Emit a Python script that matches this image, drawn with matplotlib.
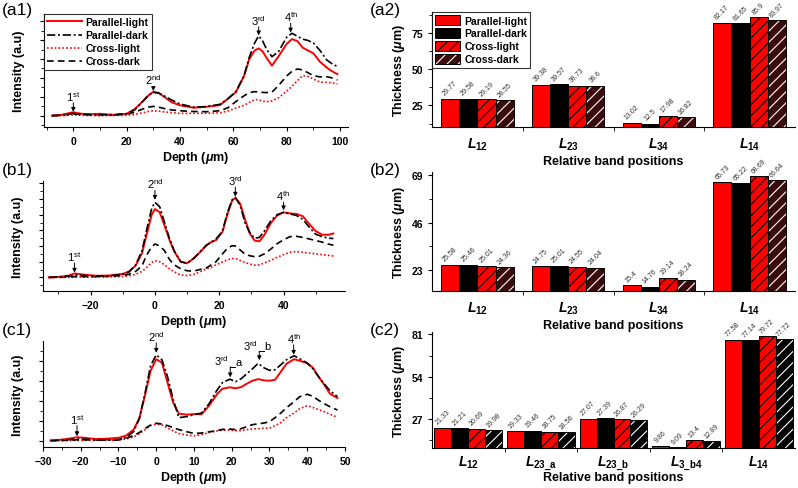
import numpy as np
import matplotlib
matplotlib.use('Agg')
import matplotlib.pyplot as plt
from matplotlib.ticker import MultipleLocator, FixedLocator, NullFormatter

plt.rcParams['font.family'] = ['Liberation Sans', 'DejaVu Sans']
plt.rcParams['mathtext.fontset'] = 'custom'
plt.rcParams['mathtext.rm'] = 'Liberation Sans'
plt.rcParams['mathtext.it'] = 'Liberation Sans:italic:bold'
plt.rcParams['mathtext.bf'] = 'Liberation Sans:bold'
plt.rcParams['hatch.linewidth'] = 0.8

series = ['Parallel-light', 'Parallel-dark', 'Cross-light', 'Cross-dark']

# ---- (a1) depth profiles
a1_x = [-8, -5, -2, 0, 3, 6, 10, 15, 20, 23, 26, 28, 30, 32, 34, 37, 40, 45, 50, 55, 58, 61, 64, 66,
        68, 69.5, 71, 72.5, 74.5, 77, 80, 82, 84, 86, 88, 90, 92.5, 95, 97, 99]
a1_pl = [0.0, 0.03, 0.12, 0.18, 0.1, 0.07, 0.1, 0.03, 0.1, 0.35, 0.75, 1.05, 1.27, 1.2, 1.0, 0.7, 0.55,
         0.42, 0.47, 0.56, 0.9, 1.25, 2.1, 3.0, 3.45, 3.56, 3.4, 3.05, 2.65, 3.15, 3.8, 4.05, 3.95, 3.6,
         3.45, 3.3, 2.85, 2.55, 2.35, 2.2]
a1_pd = [0.0, 0.02, 0.08, 0.12, 0.08, 0.06, 0.05, 0.05, 0.1, 0.3, 0.75, 1.05, 1.23, 1.2, 1.05, 0.82, 0.62,
         0.45, 0.48, 0.6, 0.9, 1.28, 2.1, 3.1, 3.85, 4.22, 3.95, 3.5, 3.12, 3.4, 4.15, 4.36, 4.2, 4.05,
         3.98, 3.85, 3.45, 2.95, 2.75, 2.6]
a1_cl = [0.0, 0.0, 0.02, 0.04, 0.02, 0.01, 0.0, 0.01, 0.02, 0.06, 0.15, 0.22, 0.26, 0.24, 0.2, 0.16, 0.12,
         0.12, 0.13, 0.15, 0.25, 0.4, 0.55, 0.7, 0.85, 0.85, 0.76, 0.74, 0.78, 0.95, 1.3, 1.55, 1.85, 2.12,
         2.08, 1.94, 1.78, 1.76, 1.74, 1.68]
a1_cd = [0.0, 0.02, 0.06, 0.09, 0.06, 0.05, 0.05, 0.05, 0.08, 0.18, 0.35, 0.45, 0.49, 0.45, 0.38, 0.3, 0.26,
         0.22, 0.21, 0.26, 0.42, 0.75, 1.05, 1.22, 1.27, 1.25, 1.23, 1.22, 1.25, 1.6, 2.1, 2.35, 2.47, 2.42,
         2.27, 2.12, 2.05, 2.06, 2.0, 1.89]

# ---- (b1)
b1_x = [-33, -30, -27, -25, -22, -18, -14, -10, -8, -6, -4, -2.5, -1, 0, 1.5, 3, 4.5, 6, 8, 10, 12, 14, 16,
        17.5, 19, 21, 22.5, 24, 25, 26.5, 28, 29.5, 31, 32.5, 34, 36, 38, 40, 42, 44, 46, 48, 50, 52, 54, 55.5]
b1_pl = [0.0, 0.03, 0.1, 0.25, 0.17, 0.1, 0.12, 0.22, 0.38, 0.75, 1.55, 2.8, 4.0, 4.36, 4.15, 3.3, 2.4, 1.65,
         1.0, 0.9, 1.2, 1.6, 2.05, 2.25, 2.38, 2.9, 4.0, 4.9, 5.08, 4.7, 3.7, 2.8, 2.35, 2.3, 2.7, 3.45, 3.95,
         4.15, 4.08, 4.05, 3.9, 3.4, 2.95, 2.72, 2.72, 2.8]
b1_pd = [0.0, 0.02, 0.07, 0.15, 0.12, 0.08, 0.1, 0.2, 0.35, 0.8, 1.7, 3.1, 4.4, 4.79, 4.5, 3.5, 2.5, 1.7,
         1.0, 0.9, 1.2, 1.62, 2.05, 2.25, 2.45, 2.95, 4.1, 4.95, 5.1, 4.6, 3.5, 2.85, 2.5, 2.55, 2.95, 3.6, 4.0,
         4.15, 4.05, 3.95, 3.7, 3.2, 2.75, 2.6, 2.5, 2.48]
b1_cl = [0.0, 0.0, 0.0, 0.02, 0.02, 0.02, 0.03, 0.05, 0.1, 0.2, 0.38, 0.65, 0.95, 1.06, 1.0, 0.8, 0.55, 0.35,
         0.15, 0.12, 0.18, 0.35, 0.55, 0.65, 0.8, 0.98, 1.12, 1.2, 1.2, 1.08, 0.95, 0.85, 0.78, 0.8, 0.92, 1.08,
         1.28, 1.45, 1.6, 1.65, 1.6, 1.55, 1.5, 1.45, 1.4, 1.36]
b1_cd = [0.0, 0.0, 0.03, 0.05, 0.05, 0.05, 0.07, 0.12, 0.2, 0.38, 0.75, 1.45, 1.95, 2.13, 2.0, 1.7, 1.15, 0.8,
         0.55, 0.42, 0.4, 0.5, 0.6, 0.8, 1.0, 1.5, 1.85, 2.02, 2.0, 1.75, 1.48, 1.38, 1.32, 1.35, 1.5, 1.8,
         2.15, 2.4, 2.6, 2.62, 2.55, 2.45, 2.35, 2.25, 2.12, 2.05]

# ---- (c1)
c1_x = [-28, -25, -23, -21, -19, -16, -13, -10, -8, -6, -4.5, -3, -1.5, 0, 1.5, 3, 4.5, 6, 8, 10, 12, 14, 16,
        17.5, 19.5, 21, 22.5, 24, 25.5, 27, 28.5, 30, 31.5, 33, 34.5, 36.5, 38, 40, 41.5, 43, 44.5, 46, 48]
c1_pl = [0.0, 0.05, 0.1, 0.17, 0.14, 0.08, 0.1, 0.14, 0.25, 0.55, 1.1, 2.25, 3.5, 4.08, 3.9, 2.9, 1.9, 1.35,
         1.3, 1.33, 1.32, 1.75, 2.3, 2.6, 2.67, 2.62, 2.68, 2.85, 3.0, 3.08, 3.02, 3.0, 3.05, 3.45, 3.85, 4.08,
         4.0, 3.88, 3.65, 3.2, 2.8, 2.35, 2.13]
c1_pd = [0.0, 0.02, 0.05, 0.08, 0.07, 0.04, 0.02, 0.03, 0.15, 0.45, 1.1, 2.35, 3.75, 4.3, 4.05, 3.2, 2.05,
         1.15, 1.2, 1.3, 1.38, 1.85, 2.5, 2.9, 3.08, 2.95, 3.1, 3.35, 3.6, 3.87, 3.65, 3.52, 3.55, 3.8, 4.05,
         4.25, 4.1, 3.88, 3.6, 3.2, 2.85, 2.5, 2.2]
c1_cl = [0.0, 0.0, 0.0, 0.01, 0.01, 0.01, 0.02, 0.03, 0.08, 0.18, 0.35, 0.55, 0.75, 0.83, 0.78, 0.63, 0.48,
         0.35, 0.28, 0.24, 0.3, 0.4, 0.48, 0.52, 0.53, 0.5, 0.5, 0.55, 0.58, 0.6, 0.62, 0.63, 0.75, 0.9, 1.15,
         1.38, 1.6, 1.75, 1.66, 1.55, 1.45, 1.32, 1.17]
c1_cd = [0.0, 0.01, 0.02, 0.04, 0.04, 0.04, 0.05, 0.06, 0.12, 0.25, 0.4, 0.6, 0.78, 0.87, 0.83, 0.75, 0.65,
         0.55, 0.45, 0.36, 0.38, 0.44, 0.5, 0.56, 0.58, 0.55, 0.6, 0.7, 0.8, 0.84, 0.88, 0.95, 1.15, 1.38,
         1.65, 1.95, 2.2, 2.32, 2.22, 2.02, 1.85, 1.7, 1.53]

# ---- bar data (thickness, um)
a2_cats = ['12', '23', '34', '14']
a2_pl = [29.77, 39.38, 13.02, 82.17]
a2_pd = [29.58, 39.57, 12.5, 81.65]
a2_cl = [29.19, 38.73, 17.98, 85.9]
a2_cd = [28.55, 38.6, 16.82, 83.97]

b2_cats = ['12', '23', '34', '14']
b2_pl = [25.58, 24.75, 15.4, 65.73]
b2_pd = [25.46, 25.01, 14.76, 65.22]
b2_cl = [25.01, 24.55, 19.14, 68.69]
b2_cd = [24.36, 24.04, 18.24, 66.64]

c2_cats = ['12', '23\\_a', '23\\_b', '3\\_b4', '14']
c2_pl = [21.33, 19.33, 27.07, 9.86, 77.58]
c2_pd = [21.21, 19.46, 27.39, 9.09, 77.14]
c2_cl = [20.69, 18.75, 26.87, 13.4, 79.72]
c2_cd = [19.98, 18.56, 26.29, 12.89, 77.72]

W, H = 798, 489
fig = plt.figure(figsize=(W / 100, H / 100), dpi=100)


def add_ax(l, t, r, b):
    ax = fig.add_axes([l / W, 1 - b / H, (r - l) / W, (b - t) / H])
    ax.spines['top'].set_visible(False)
    ax.spines['right'].set_visible(False)
    ax.tick_params(which='major', direction='out', length=3, width=0.8, labelsize=7.5)
    ax.tick_params(which='minor', direction='out', length=2, width=0.6)
    for lab in ax.get_xticklabels() + ax.get_yticklabels():
        lab.set_fontweight('bold')
    return ax


def line_panel(ax, x, pl, pd, cl, cd, xlim, ylim, xmaj, xmin):
    ax.plot(x, cl, color='red', lw=1.2, ls=(0, (1, 1.3)), label=series[2])
    ax.plot(x, cd, color='black', lw=1.2, ls=(0, (4, 2.5)), label=series[3])
    ax.plot(x, pl, color='red', lw=1.4, label=series[0])
    ax.plot(x, pd, color='black', lw=1.2, ls=(0, (5, 1.6, 1.2, 1.6)), label=series[1])
    ax.set_xlim(*xlim)
    ax.set_ylim(*ylim)
    ax.xaxis.set_major_locator(MultipleLocator(xmaj))
    ax.xaxis.set_minor_locator(MultipleLocator(xmin))
    ax.yaxis.set_major_locator(MultipleLocator(1))
    ax.yaxis.set_minor_locator(MultipleLocator(0.5))
    ax.yaxis.set_major_formatter(NullFormatter())
    for lab in ax.get_xticklabels():
        lab.set_fontweight('bold')
    ax.set_xlabel(r'Depth ($\mu$m)', fontsize=9, fontweight='bold', labelpad=2)
    ax.set_ylabel('Intensity (a.u)', fontsize=9, fontweight='bold', labelpad=7)


def mark(ax, x, tip, tail, label):
    ax.annotate('', xy=(x, tip), xytext=(x, tail),
                arrowprops=dict(arrowstyle='-|>', color='black', lw=0.7, mutation_scale=6,
                                shrinkA=0, shrinkB=0), annotation_clip=False)
    ax.text(x, tail, label, ha='center', va='bottom', fontsize=8, clip_on=False)


def mark_sub(ax, x, tip, tail, label, sub, hook):
    ax.annotate('', xy=(x, tip), xytext=(x, tail),
                arrowprops=dict(arrowstyle='-|>', color='black', lw=0.7, mutation_scale=6,
                                shrinkA=0, shrinkB=0), annotation_clip=False)
    ax.plot([x, x + hook], [tail, tail], color='black', lw=0.7)
    ax.text(x - 0.3, tail - 0.02, label, ha='right', va='bottom', fontsize=8)
    ax.text(x + hook + 0.1, tail, sub, ha='left', va='bottom', fontsize=8)


ax = add_ax(44, 15, 348, 128)
line_panel(ax, a1_x, a1_pl, a1_pd, a1_cl, a1_cd, (-11, 103), (-0.6, 5.38), 20, 10)
h, l = ax.get_legend_handles_labels()
order = [2, 3, 0, 1]
leg = ax.legend([h[i] for i in order], [l[i] for i in order], loc='upper left', bbox_to_anchor=(0, 1),
                borderaxespad=0, prop={'weight': 'bold', 'size': 7.5}, frameon=True,
                fancybox=False, edgecolor='black', handlelength=3.3, labelspacing=0.3, borderpad=0.3,
                handletextpad=0.4)
leg.get_frame().set_linewidth(0.8)
mark(ax, 0, 0.2, 0.68, r'1$^{\rm st}$')
mark(ax, 30, 1.3, 1.55, r'2$^{\rm nd}$')
mark(ax, 69.5, 4.25, 4.7, r'3$^{\rm rd}$')
mark(ax, 81.5, 4.4, 4.9, r'4$^{\rm th}$')

ax = add_ax(43, 182, 345, 292)
line_panel(ax, b1_x, b1_pl, b1_pd, b1_cl, b1_cd, (-34.8, 59.1), (-0.87, 6.15), 20, 10)
mark(ax, -25, 0.3, 0.92, r'1$^{\rm st}$')
mark(ax, 0, 4.95, 5.55, r'2$^{\rm nd}$')
mark(ax, 25, 5.15, 5.75, r'3$^{\rm rd}$')
mark(ax, 40, 4.28, 4.8, r'4$^{\rm th}$')

ax = add_ax(43, 342, 345, 448)
line_panel(ax, c1_x, c1_pl, c1_pd, c1_cl, c1_cd, (-30, 50), (-0.32, 4.99), 10, 5)
mark(ax, -21, 0.22, 0.75, r'1$^{\rm st}$')
mark(ax, 0, 4.4, 4.9, r'2$^{\rm nd}$')
mark_sub(ax, 19.6, 3.17, 3.7, r'3$^{\rm rd}$', 'a', 1.2)
mark_sub(ax, 27.3, 4.03, 4.47, r'3$^{\rm rd}$', 'b', 1.2)
mark(ax, 36.4, 4.3, 4.8, r'4$^{\rm th}$')


def bar_panel(ax, cats, vals, width, dark, ylim, yticks, yminor, pad=6, labelpad=2, legend=False):
    x = np.arange(1, len(cats) + 1)
    offs = (np.arange(4) - 1.5) * width
    b0 = ax.bar(x + offs[0], vals[0], width, color='red', edgecolor='black', lw=0.7)
    b1 = ax.bar(x + offs[1], vals[1], width, color='black', edgecolor='black', lw=0.7)
    b2 = ax.bar(x + offs[2], vals[2], width, color='red', edgecolor='black', hatch='///', lw=0.7)
    b3 = ax.bar(x + offs[3], vals[3], width, color=dark, edgecolor='white', hatch='///', lw=0)
    b3e = ax.bar(x + offs[3], vals[3], width, fill=False, edgecolor='black', lw=0.7)
    for i in range(4):
        for xi, v in zip(x + offs[i], vals[i]):
            ax.annotate(str(v), xy=(xi, v), xytext=(0, 1.5), textcoords='offset points', rotation=45,
                        ha='center', va='bottom', fontsize=5, color='#333333')
    ax.set_xlim(0.5, len(cats) + 0.5)
    ax.set_ylim(*ylim)
    ax.xaxis.set_major_locator(FixedLocator(x))
    ax.xaxis.set_minor_locator(FixedLocator(np.arange(1.5, len(cats), 1)))
    ax.set_xticklabels([r'$L_{\mathbf{%s}}$' % c for c in cats], fontsize=10)
    ax.tick_params(axis='x', which='major', length=0, pad=pad)
    ax.tick_params(axis='x', which='minor', length=3)
    ax.yaxis.set_major_locator(FixedLocator(yticks))
    ax.yaxis.set_minor_locator(FixedLocator(yminor))
    for lab in ax.get_yticklabels():
        lab.set_fontweight('bold')
    ax.set_xlabel('Relative band positions', fontsize=9, fontweight='bold', labelpad=labelpad)
    ax.set_ylabel(r'Thickness ($\mu$m)', fontsize=9, fontweight='bold', labelpad=3)
    if legend:
        leg = ax.legend([b0[0], b1[0], b2[0], (b3[0], b3e[0])], series, loc='upper left',
                        bbox_to_anchor=(0, 1), borderaxespad=0, prop={'weight': 'bold', 'size': 7.5},
                        frameon=True, fancybox=False, edgecolor='black', handlelength=2.4,
                        handleheight=1.05, labelspacing=0.25, borderpad=0.3, handletextpad=0.4)
        leg.get_frame().set_linewidth(0.8)


ax = add_ax(432, 13, 795, 128)
bar_panel(ax, a2_cats, [a2_pl, a2_pd, a2_cl, a2_cd], 0.2, '#3b0a0a', (10.1, 89.5),
          [25, 50, 75], [12.5, 37.5, 62.5, 87.5], legend=True)
ax = add_ax(432, 173, 795, 292)
bar_panel(ax, b2_cats, [b2_pl, b2_pd, b2_cl, b2_cd], 0.2, '#3b0a0a', (12.7, 70.7),
          [23, 46, 69], [34.5, 57.5])
ax = add_ax(432, 333, 795, 449)
bar_panel(ax, c2_cats, [c2_pl, c2_pd, c2_cl, c2_cd], 0.234, 'black', (8.5, 82.5),
          [27, 54, 81], [13.5, 40.5, 67.5], pad=4, labelpad=-1)

for txt, px, py in [('(a1)', 2, 3), ('(a2)', 370, 3), ('(b1)', 2, 163), ('(b2)', 370, 163),
                    ('(c1)', 2, 323), ('(c2)', 370, 323)]:
    fig.text(px / W, 1 - py / H, txt, ha='left', va='top', fontsize=12.5)

fig.savefig('out.png', dpi=100)
